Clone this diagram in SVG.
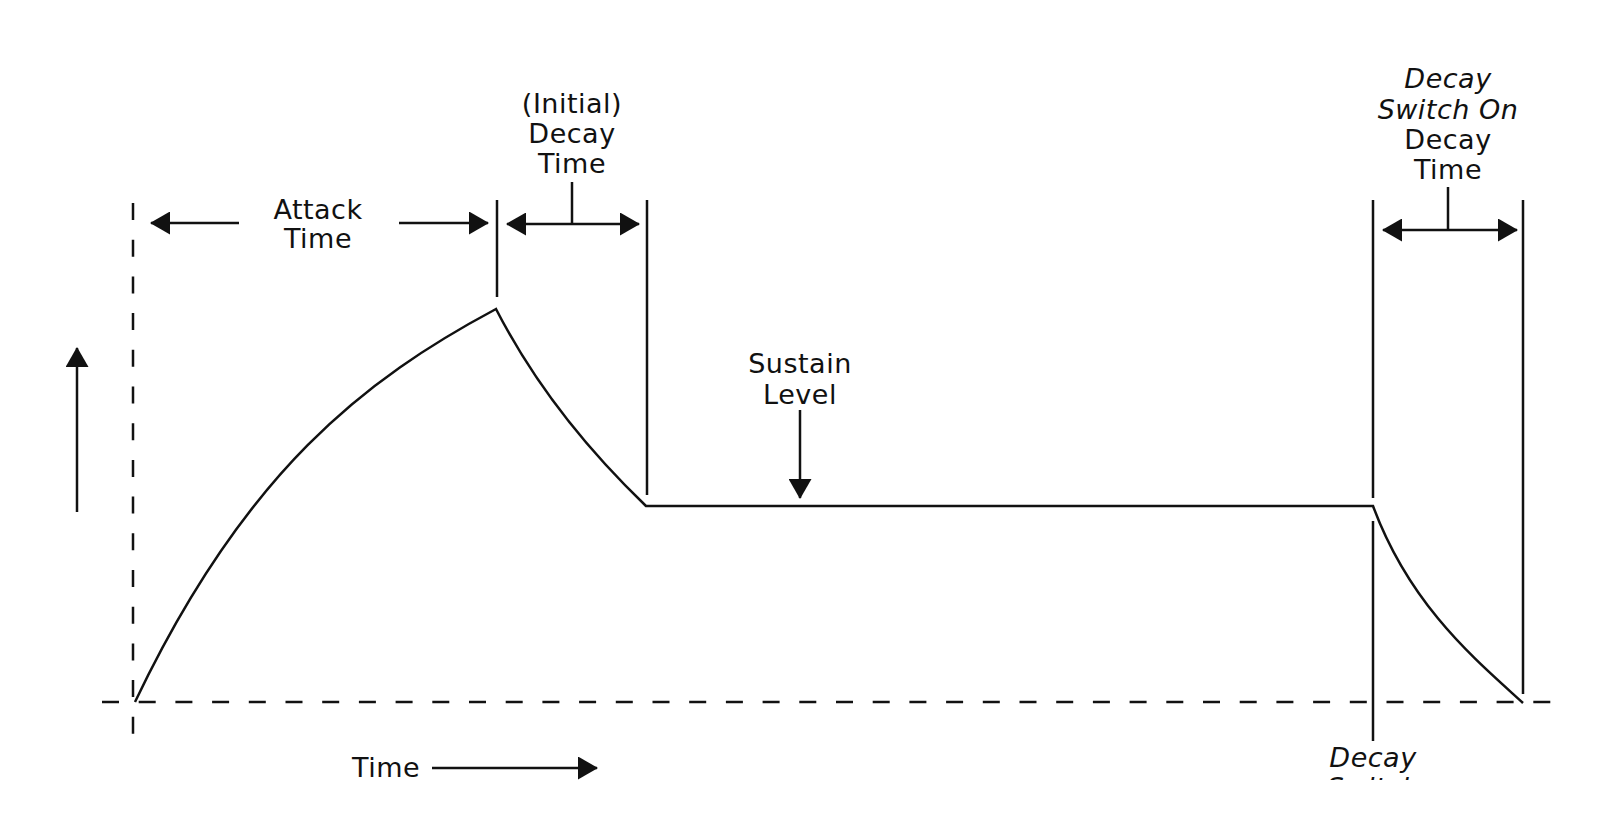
<svg xmlns="http://www.w3.org/2000/svg" width="1600" height="813" viewBox="0 0 1600 813">
<style>
  .ln { stroke:#111; stroke-width:2.5; fill:none; }
  .dash { stroke:#111; stroke-width:2.5; fill:none; stroke-dasharray:17 19.7; }
  .arr { stroke:#111; stroke-width:2.5; fill:none; }
  .t { font-family:"DejaVu Sans","Liberation Sans",sans-serif; font-size:27px; fill:#111; text-anchor:middle; letter-spacing:0.5px; }
  .it { font-style:italic; }
</style>
<defs>
  <marker id="ah" markerUnits="userSpaceOnUse" markerWidth="20" markerHeight="23" refX="19" refY="11.5" orient="auto-start-reverse" viewBox="0 0 20 23">
    <path d="M0,0 L20,11.5 L0,23 Z" fill="#111"/>
  </marker>
  <clipPath id="clipB"><rect x="0" y="0" width="1600" height="780"/></clipPath>
</defs>
<rect width="1600" height="813" fill="#fff"/>

<g id="axes">
  <line class="dash" x1="133" y1="203" x2="133" y2="736"/>
  <line class="dash" x1="102" y1="702" x2="1555" y2="702"/>
</g>

<g id="envelope">
  <path class="ln" d="M135,702 C245,471 365,379 496,309 C538,391 596,458 646,506 L1373,506 C1410,606 1476,660 1523,703"/>
</g>

<g id="markers">
  <line class="ln" x1="497" y1="200" x2="497" y2="297"/>
  <line class="ln" x1="647" y1="200" x2="647" y2="495"/>
  <line class="ln" x1="1373" y1="200" x2="1373" y2="498"/>
  <line class="ln" x1="1373" y1="521" x2="1373" y2="741"/>
  <line class="ln" x1="1523" y1="200" x2="1523" y2="694"/>
</g>

<g id="connectors">
  <line class="arr" x1="77" y1="512" x2="77" y2="348" marker-end="url(#ah)"/>
  <line class="arr" x1="239" y1="223" x2="151" y2="223" marker-end="url(#ah)"/>
  <line class="arr" x1="399" y1="223" x2="488" y2="223" marker-end="url(#ah)"/>
  <line class="arr" x1="507" y1="224" x2="639" y2="224" marker-start="url(#ah)" marker-end="url(#ah)"/>
  <line class="ln" x1="572" y1="182" x2="572" y2="224"/>
  <line class="arr" x1="800" y1="410" x2="800" y2="498" marker-end="url(#ah)"/>
  <line class="arr" x1="1383" y1="230" x2="1517" y2="230" marker-start="url(#ah)" marker-end="url(#ah)"/>
  <line class="ln" x1="1448" y1="187" x2="1448" y2="230"/>
  <line class="arr" x1="432" y1="768" x2="597" y2="768" marker-end="url(#ah)"/>
</g>

<g id="label-attack">
  <text class="t" x="318" y="219">Attack</text>
  <text class="t" x="318" y="248">Time</text>
</g>
<g id="label-initial-decay">
  <text class="t" x="572" y="113">(Initial)</text>
  <text class="t" x="572" y="143">Decay</text>
  <text class="t" x="572" y="173">Time</text>
</g>
<g id="label-sustain">
  <text class="t" x="800" y="373">Sustain</text>
  <text class="t" x="800" y="404">Level</text>
</g>
<g id="label-decay-switch-on">
  <text class="t it" x="1448" y="88">Decay</text>
  <text class="t it" x="1448" y="119">Switch On</text>
  <text class="t" x="1448" y="149">Decay</text>
  <text class="t" x="1448" y="179">Time</text>
</g>
<g id="label-decay-switch" clip-path="url(#clipB)">
  <text class="t it" x="1373" y="767">Decay</text>
  <text class="t it" x="1373" y="797">Switch</text>
</g>
<g id="label-time">
  <text class="t" x="352" y="777" style="text-anchor:start">Time</text>
</g>
</svg>
